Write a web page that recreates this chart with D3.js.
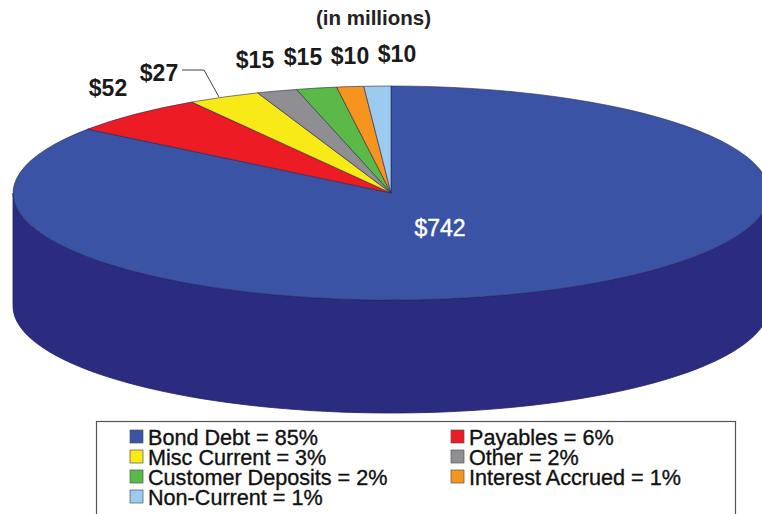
<!DOCTYPE html>
<html>
<head>
<meta charset="utf-8">
<script src="https://cdn.jsdelivr.net/npm/d3@7"></script>
<style>
html,body{margin:0;padding:0;background:#fff;overflow:hidden}
svg{display:block}
text{font-family:"Liberation Sans",Arial,sans-serif}
</style>
</head>
<body>
<svg id="chart" width="762" height="514"></svg>
<script>
const categories = ["Bond Debt","Payables","Misc Current","Other","Customer Deposits","Interest Accrued","Non-Current"];
const amounts = [742,52,27,15,15,10,10];
const amountLabels = ["$742","$52","$27","$15","$15","$10","$10"];
const percents = [85,6,3,2,2,1,1];
const colors = ["#3a53a5","#ed1c24","#f7ea17","#8f8f93","#5ab947","#f7941e","#9ccbf0"];
const labelSpots = [[440,227],[108,87],[159,72],[255,59],[303,56],[350,55],[397,53]];

const svg = d3.select("#chart");
const cx = 391, cy = 193, rx = 378, ry = 107, depth = 113;

// The wall of the disc: the front half of the rim, swept down by its depth
const rim = d3.range(0, 181, 2).map(a => {
  const t = a * Math.PI / 180;
  return [cx + rx * Math.cos(t), cy + ry * Math.sin(t)];
});
const wall = rim.concat(rim.slice().reverse().map(p => [p[0], p[1] + depth]));
svg.append("path")
  .attr("d", d3.line()(wall) + "Z")
  .attr("fill", "#2b2b80")
  .attr("stroke", "#20206a")
  .attr("stroke-width", 0.8);

// Top face: unit-radius wedges squashed into an ellipse
const pie = d3.pie().sort(null).value(d => d);
const arc = d3.arc().innerRadius(0).outerRadius(1);
svg.append("g")
  .attr("transform", `translate(${cx},${cy}) scale(${rx},${ry})`)
  .selectAll("path")
  .data(pie(amounts))
  .join("path")
  .attr("d", arc)
  .attr("fill", (d, i) => colors[i])
  .attr("stroke", "#26264f")
  .attr("stroke-width", 0.6)
  .attr("vector-effect", "non-scaling-stroke");

svg.append("text")
  .attr("x", 373.5).attr("y", 25)
  .attr("text-anchor", "middle")
  .attr("font-size", 20.5).attr("font-weight", "bold")
  .attr("fill", "#222")
  .text("(in millions)");

// Amount labels around the disc
svg.append("g").selectAll("text")
  .data(amountLabels)
  .join("text")
  .attr("x", (d, i) => labelSpots[i][0])
  .attr("y", (d, i) => labelSpots[i][1] + 8.5)
  .attr("text-anchor", "middle")
  .attr("font-size", 23)
  .attr("font-weight", (d, i) => i === 0 ? "normal" : "bold")
  .attr("fill", (d, i) => i === 0 ? "#fff" : "#1a1a1a")
  .attr("stroke", (d, i) => i === 0 ? "#fff" : "none")
  .attr("stroke-width", 0.4)
  .text(d => d);

// Leader from the $27 label to its wedge
svg.append("path")
  .attr("d", d3.line()([[182,70],[204,70],[219,97]]))
  .attr("fill", "none")
  .attr("stroke", "#444")
  .attr("stroke-width", 1);

// Legend box, running off the bottom of the page
svg.append("rect")
  .attr("x", 96.5).attr("y", 421.5)
  .attr("width", 639).attr("height", 100)
  .attr("fill", "#fff")
  .attr("stroke", "#555")
  .attr("stroke-width", 1.2);

const columns = [130, 451];
const rowY = d3.scaleLinear().domain([0, 3]).range([437, 497]);
const item = svg.append("g").selectAll("g")
  .data(categories)
  .join("g")
  .attr("transform", (d, i) => `translate(${columns[i % 2]},${rowY(Math.floor(i / 2))})`);
item.append("rect")
  .attr("x", 0).attr("y", -7).attr("width", 13).attr("height", 13)
  .attr("fill", (d, i) => colors[i])
  .attr("stroke", "#555").attr("stroke-width", 0.7);
item.append("text")
  .attr("x", 18).attr("y", 8)
  .attr("font-size", 21.6)
  .attr("fill", "#111")
  .attr("stroke", "#111").attr("stroke-width", 0.35)
  .text((d, i) => `${d} = ${percents[i]}%`);
</script>
</body>
</html>
